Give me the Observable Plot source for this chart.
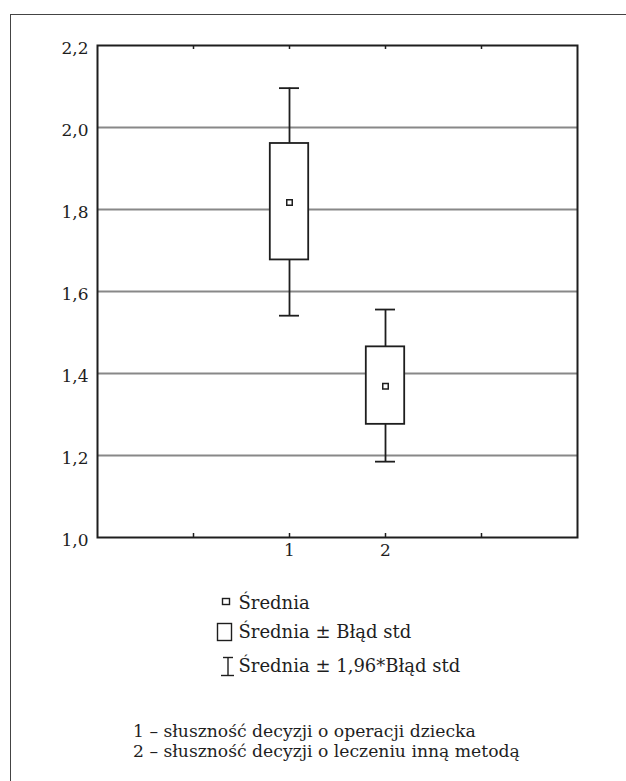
<!DOCTYPE html>
<html><head><meta charset="utf-8">
<script src="https://cdn.jsdelivr.net/npm/d3@7"></script>
<script src="https://cdn.jsdelivr.net/npm/@observablehq/plot@0.6"></script>
<style>
body{margin:0;background:#fff}
#wrap{position:relative;width:626px;height:781px;overflow:hidden;background:#fff}
#frame{position:absolute;left:10px;top:13.5px;width:640px;height:800px;border-top:1.3px solid #444;border-left:1.3px solid #444}
#plot{position:absolute;left:0;top:0}
#legend{position:absolute;left:0;top:0}
</style></head>
<body><div id="wrap"><div id="frame"></div><div id="plot"></div><svg id="legend" width="626" height="781"></svg></div>
<script>
// Data
const categories = [1, 2];
const categoryLabels = ["1", "2"];
const means  = [1.817, 1.369];
const seLow  = [1.677, 1.276];
const seHigh = [1.961, 1.465];
const ciLow  = [1.541, 1.185];
const ciHigh = [2.096, 1.556];
const yTicks = [1.0, 1.2, 1.4, 1.6, 1.8, 2.0, 2.2];
const gridValues = [1.2, 1.4, 1.6, 1.8, 2.0];
const xTicks = [0, 1, 2, 3];
const legendLabels = ["Średnia", "Średnia ± Błąd std", "Średnia ± 1,96*Błąd std"];
const captionLines = ["1 – słuszność decyzji o operacji dziecka", "2 – słuszność decyzji o leczeniu inną metodą"];

const rows = categories.map((c, i) => ({c, mean: means[i], lo: seLow[i], hi: seHigh[i], clo: ciLow[i], chi: ciHigh[i]}));

const BOX = 0.2, CAP = 0.104;
const H = 575, mt = 45, mb = 38;
const innerH = H - mt - mb;
const ink = "#1e1e1e";
const serif = "'DejaVu Serif', 'Liberation Serif', serif";

const chart = Plot.plot({
  width: 626, height: H,
  marginTop: mt, marginBottom: mb, marginLeft: 97, marginRight: 49,
  style: {fontFamily: serif, fontSize: "17px", color: ink, background: "transparent"},
  x: {domain: [-1, 4]},
  y: {domain: [1.0, 2.2]},
  marks: [
    Plot.ruleY(gridValues, {stroke: "#888", strokeWidth: 1.8}),
    Plot.tickX(xTicks, {x: d => d, insetBottom: innerH - 4, stroke: ink, strokeWidth: 1.5}),
    Plot.tickX(xTicks, {x: d => d, insetTop: innerH - 4, stroke: ink, strokeWidth: 1.5}),
    Plot.ruleX(rows, {x: "c", y1: "clo", y2: "lo", stroke: ink, strokeWidth: 1.8}),
    Plot.ruleX(rows, {x: "c", y1: "hi", y2: "chi", stroke: ink, strokeWidth: 1.8}),
    Plot.ruleY(rows, {y: "chi", x1: d => d.c - CAP, x2: d => d.c + CAP, stroke: ink, strokeWidth: 1.8}),
    Plot.ruleY(rows, {y: "clo", x1: d => d.c - CAP, x2: d => d.c + CAP, stroke: ink, strokeWidth: 1.8}),
    Plot.rect(rows, {x1: d => d.c - BOX, x2: d => d.c + BOX, y1: "lo", y2: "hi", fill: "white", stroke: ink, strokeWidth: 1.8}),
    Plot.dot(rows, {x: "c", y: "mean", symbol: "square", r: 3.1, fill: "white", stroke: ink, strokeWidth: 1.5}),
    Plot.frame({stroke: ink, strokeWidth: 2}),
    Plot.axisY(yTicks, {tickSize: 0, tickPadding: 9, dy: 3, tickFormat: d => d.toFixed(1).replace(".", ","), label: null, fontSize: 17}),
    Plot.axisX(categories, {tickSize: 0, tickPadding: 6, tickFormat: (d) => categoryLabels[categories.indexOf(d)], label: null, fontSize: 17})
  ]
});
document.getElementById("plot").appendChild(chart);

// Legend and caption
const svg = d3.select("#legend");
const lg = svg.append("g").attr("fill", ink).attr("stroke", "none");
lg.append("rect").attr("x", 222.5).attr("y", 598.5).attr("width", 7).attr("height", 6)
  .attr("fill", "white").attr("stroke", ink).attr("stroke-width", 1.4);
lg.append("rect").attr("x", 217.5).attr("y", 623.5).attr("width", 14).attr("height", 17)
  .attr("fill", "white").attr("stroke", ink).attr("stroke-width", 1.4);
const iy = lg.append("g").attr("stroke", ink).attr("stroke-width", 1.4);
iy.append("line").attr("x1", 223).attr("x2", 233).attr("y1", 657.5).attr("y2", 657.5);
iy.append("line").attr("x1", 228).attr("x2", 228).attr("y1", 657.5).attr("y2", 675.5);
iy.append("line").attr("x1", 221).attr("x2", 234).attr("y1", 675.5).attr("y2", 675.5);
const lBase = [609, 638, 672];
legendLabels.forEach((t, i) => {
  lg.append("text").attr("x", 238.5).attr("y", lBase[i])
    .attr("font-family", serif).attr("font-size", 18).text(t);
});
const cBase = [737, 757];
captionLines.forEach((t, i) => {
  svg.append("text").attr("x", 133).attr("y", cBase[i]).attr("fill", ink)
    .attr("font-family", serif).attr("font-size", 17.2).text(t);
});
</script>
</body></html>
